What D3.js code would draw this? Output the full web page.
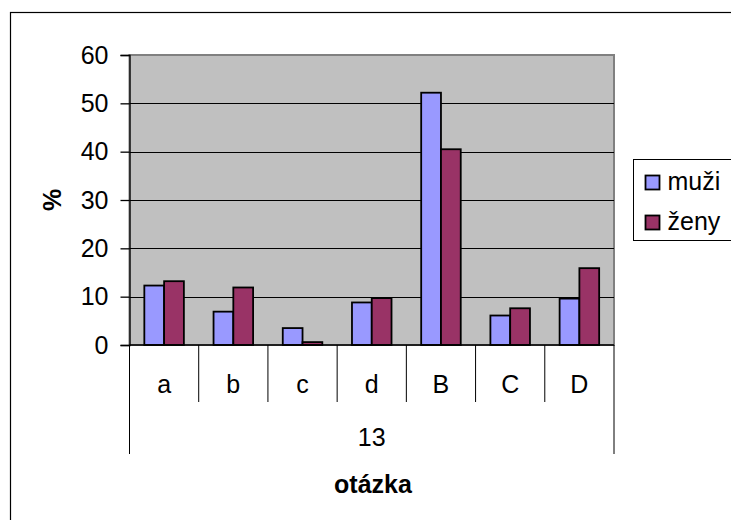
<!DOCTYPE html>
<html>
<head>
<meta charset="utf-8">
<script src="https://cdn.jsdelivr.net/npm/d3@7"></script>
<style>
  html, body { margin: 0; padding: 0; background: #fff; }
  svg { display: block; font-family: 'Liberation Sans', Arial, sans-serif; }
</style>
</head>
<body>
<svg id="chart" width="731" height="520"></svg>
<script>
// data
const categories = ['a', 'b', 'c', 'd', 'B', 'C', 'D']
const groupLabel = '13'
const seriesNames = ['muži', 'ženy']
const muzi = [12.3, 6.9, 3.5, 8.8, 52.2, 6.1, 9.6]
const zeny = [13.2, 11.9, 0.6, 9.7, 40.5, 7.6, 15.9]
const yTicks = [0, 10, 20, 30, 40, 50, 60]
const colors = ['#9999ff', '#993366']

const svg = d3.select('#chart')
const plot = { left: 129.5, right: 614, top: 55, bottom: 345 }
const fontSize = 25

// outer chart border (runs off the bottom/right of the picture)
svg.append('rect')
  .attr('x', 10.5).attr('y', 12.5)
  .attr('width', 800).attr('height', 600)
  .attr('fill', '#fff')
  .attr('stroke', '#000')
  .attr('stroke-width', 1.2)

const x = d3.scaleBand()
  .domain(categories)
  .range([plot.left, plot.right])
  .paddingInner(0).paddingOuter(0)

const xs = d3.scaleBand()
  .domain(seriesNames)
  .range([0, x.bandwidth()])
  .paddingInner(0).paddingOuter(0.75)

const y = d3.scaleLinear()
  .domain([0, 60])
  .range([plot.bottom, plot.top])

// plot background
svg.append('rect')
  .attr('x', plot.left).attr('y', plot.top)
  .attr('width', plot.right - plot.left)
  .attr('height', plot.bottom - plot.top)
  .attr('fill', '#c0c0c0')
  .attr('stroke', '#808080')
  .attr('stroke-width', 2)

// gridlines
svg.append('g')
  .selectAll('line').data(yTicks.filter(d => d > 0 && d < 60))
  .enter().append('line')
    .attr('x1', plot.left).attr('x2', plot.right)
    .attr('y1', d => Math.round(y(d)) + 0.5).attr('y2', d => Math.round(y(d)) + 0.5)
    .attr('stroke', '#000')
    .attr('stroke-width', 1)

// bars
const rows = categories.map((c, i) => ({ cat: c, values: [muzi[i], zeny[i]] }))
const groups = svg.append('g').selectAll('g').data(rows)
  .enter().append('g')
    .attr('transform', d => `translate(${ x(d.cat) },0)`)

groups.selectAll('rect').data(d => d.values.map((v, j) => ({ key: seriesNames[j], value: v, j: j })))
  .enter().append('rect')
    .attr('x', d => xs(d.key))
    .attr('width', xs.bandwidth())
    .attr('y', d => y(d.value))
    .attr('height', d => y(0) - y(d.value))
    .attr('fill', d => colors[d.j])
    .attr('stroke', '#000')
    .attr('stroke-width', 1.8)

// y axis
const yAxis = d3.axisLeft(y).tickValues(yTicks).tickSize(9).tickPadding(12)
const yAxisG = svg.append('g')
  .attr('transform', `translate(${ plot.left },0)`)
  .call(yAxis)
yAxisG.select('.domain').attr('stroke', '#000').attr('stroke-width', 1.3)
yAxisG.selectAll('.tick line').attr('stroke', '#000').attr('stroke-width', 1.3)
yAxisG.selectAll('.tick text')
  .attr('font-size', fontSize)
  .attr('font-family', 'Liberation Sans, Arial, sans-serif')
  .attr('fill', '#000')

// x axis baseline
svg.append('line')
  .attr('x1', plot.left).attr('x2', plot.right)
  .attr('y1', plot.bottom).attr('y2', plot.bottom)
  .attr('stroke', '#000').attr('stroke-width', 1.3)

// category dividers
const edges = categories.map(c => x(c)).concat([plot.right])
svg.append('g').selectAll('line').data(edges)
  .enter().append('line')
    .attr('x1', d => d).attr('x2', d => d)
    .attr('y1', plot.bottom)
    .attr('y2', (d, i) => (i === 0 || i === edges.length - 1) ? 454 : 402)
    .attr('stroke', '#000').attr('stroke-width', 1)

svg.append('g').selectAll('text').data(categories)
  .enter().append('text')
    .attr('x', d => x(d) + x.bandwidth() / 2)
    .attr('y', 393)
    .attr('text-anchor', 'middle')
    .attr('font-size', fontSize)
    .text(d => d)

svg.append('text')
  .attr('x', (plot.left + plot.right) / 2)
  .attr('y', 446)
  .attr('text-anchor', 'middle')
  .attr('font-size', fontSize)
  .text(groupLabel)

// axis titles
svg.append('text')
  .attr('x', 373)
  .attr('y', 493)
  .attr('text-anchor', 'middle')
  .attr('font-size', fontSize)
  .attr('font-weight', 'bold')
  .text('otázka')

svg.append('text')
  .attr('transform', `translate(61,${ (plot.top + plot.bottom) / 2 }) rotate(-90)`)
  .attr('text-anchor', 'middle')
  .attr('font-size', fontSize)
  .attr('font-weight', 'bold')
  .text('%')

// legend
const legend = svg.append('g').attr('transform', 'translate(633.5,159.5)')
legend.append('rect')
  .attr('width', 110).attr('height', 81)
  .attr('fill', '#fff').attr('stroke', '#000').attr('stroke-width', 1)

const items = legend.selectAll('g.item').data(seriesNames)
  .enter().append('g')
    .attr('class', 'item')
    .attr('transform', (d, i) => `translate(12,${ 16 + i * 40 })`)
items.append('rect')
  .attr('width', 14).attr('height', 14)
  .attr('fill', (d, i) => colors[i])
  .attr('stroke', '#000').attr('stroke-width', 1.8)
items.append('text')
  .attr('x', 22).attr('y', 14)
  .attr('font-size', fontSize)
  .text(d => d)
</script>
</body>
</html>
